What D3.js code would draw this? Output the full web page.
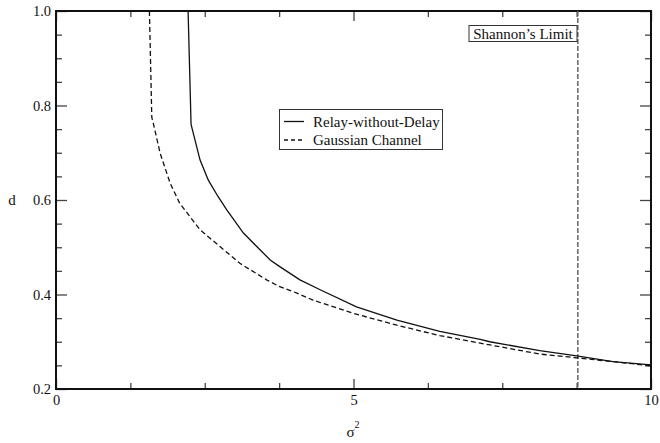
<!DOCTYPE html>
<html>
<head>
<meta charset="utf-8">
<script src="https://cdn.jsdelivr.net/npm/d3@7"></script>
<style>
  body { margin: 0; background: #fff; }
  svg { display: block; }
  text { font-family: "Liberation Serif", "Times New Roman", serif; fill: #111; }
</style>
</head>
<body>
<svg id="chart" width="660" height="443"></svg>
<script>
// ---- data ----
const relaySigma2 = [2.22, 2.27, 2.42, 2.56, 2.72, 2.87, 3.15, 3.60, 3.76, 4.10, 4.44, 5.05, 5.73, 6.45, 7.13, 7.29, 8.13, 8.75, 9.36, 10.0];
const relayD      = [1.00, 0.76, 0.685, 0.642, 0.608, 0.579, 0.530, 0.473, 0.459, 0.431, 0.410, 0.374, 0.346, 0.322, 0.305, 0.300, 0.281, 0.270, 0.258, 0.251];
const gaussSigma2 = [1.57, 1.61, 1.64, 1.75, 1.92, 2.08, 2.42, 2.76, 3.09, 3.54, 3.76, 4.05, 4.32, 5.00, 5.73, 6.45, 7.13, 8.13, 8.75, 9.36, 10.0];
const gaussD      = [1.00, 0.775, 0.760, 0.699, 0.635, 0.593, 0.537, 0.501, 0.466, 0.431, 0.4165, 0.403, 0.388, 0.360, 0.335, 0.313, 0.297, 0.274, 0.266, 0.258, 0.249];
const shannonLimit = 8.77;
const seriesNames = ["Relay-without-Delay", "Gaussian Channel"];
const xMajorTicks = [0, 5, 10];
const xMinorTicks = [1.25, 2.5, 3.75, 6.25, 7.5, 8.75];
const yMajorTicks = [0.2, 0.4, 0.6, 0.8, 1.0];
const yMinorTicks = [0.25, 0.3, 0.35, 0.45, 0.5, 0.55, 0.65, 0.7, 0.75, 0.85, 0.9, 0.95];
const xLabel = "σ";
const yLabel = "d";
const shannonText = "Shannon\u2019s Limit";

// ---- layout ----
const svg = d3.select("#chart");
const L = 56, R = 651, T = 11, B = 389;
const x = d3.scaleLinear().domain([0, 10]).range([L, R]);
const y = d3.scaleLinear().domain([0.2, 1.0]).range([B, T]);

const tickColor = "#444";
// bottom axis
const gB = svg.append("g").attr("transform", `translate(0,${B})`);
gB.call(d3.axisBottom(x).tickValues(xMajorTicks).tickSize(-10).tickPadding(6).tickFormat(d3.format("d")));
gB.append("g").call(d3.axisBottom(x).tickValues(xMinorTicks).tickSize(-6).tickFormat(""));
// top axis
const gT = svg.append("g").attr("transform", `translate(0,${T})`);
gT.call(d3.axisTop(x).tickValues(xMajorTicks).tickSize(-10).tickFormat(""));
gT.append("g").call(d3.axisTop(x).tickValues(xMinorTicks).tickSize(-6).tickFormat(""));
// left axis
const gL = svg.append("g").attr("transform", `translate(${L},0)`);
gL.call(d3.axisLeft(y).tickValues(yMajorTicks).tickSize(-11).tickPadding(5).tickFormat(d3.format(".1f")));
gL.append("g").call(d3.axisLeft(y).tickValues(yMinorTicks).tickSize(-6).tickFormat(""));
// right axis
const gR = svg.append("g").attr("transform", `translate(${R},0)`);
gR.call(d3.axisRight(y).tickValues(yMajorTicks).tickSize(-11).tickFormat(""));
gR.append("g").call(d3.axisRight(y).tickValues(yMinorTicks).tickSize(-6).tickFormat(""));

svg.selectAll(".domain").remove();
svg.selectAll(".tick line").attr("stroke", tickColor).attr("stroke-width", 1.3);
svg.selectAll(".tick text").style("font-family", "Liberation Serif, serif").style("font-size", "14.5px").attr("fill", "#111");

// frame
svg.append("rect").attr("x", L).attr("y", T).attr("width", R - L).attr("height", B - T)
  .attr("fill", "none").attr("stroke", "#111").attr("stroke-width", 2);

// Shannon limit line
svg.append("line")
  .attr("x1", x(shannonLimit)).attr("x2", x(shannonLimit))
  .attr("y1", T).attr("y2", B)
  .attr("stroke", "#666").attr("stroke-width", 1.5).attr("stroke-dasharray", "5,2");

// curves
const line = d3.line().x(d => x(d[0])).y(d => y(d[1]));
const relay = relaySigma2.map((s, i) => [s, relayD[i]]);
const gauss = gaussSigma2.map((s, i) => [s, gaussD[i]]);
svg.append("path").datum(relay).attr("d", line).attr("fill", "none")
  .attr("stroke", "#111").attr("stroke-width", 1.3);
svg.append("path").datum(gauss).attr("d", line).attr("fill", "none")
  .attr("stroke", "#111").attr("stroke-width", 1.3).attr("stroke-dasharray", "5,3");

// Shannon label
const sh = svg.append("g");
sh.append("rect").attr("x", 469).attr("y", 25.5).attr("width", 108).attr("height", 16)
  .attr("fill", "#fff").attr("stroke", "#333").attr("stroke-width", 1);
sh.append("text").attr("x", 523).attr("y", 38.5).attr("text-anchor", "middle")
  .style("font-size", "15px").text(shannonText);

// legend
const lg = svg.append("g");
lg.append("rect").attr("x", 279.5).attr("y", 109.5).attr("width", 163).attr("height", 40)
  .attr("fill", "#fff").attr("stroke", "#333").attr("stroke-width", 1);
const rows = [121.5, 140];
lg.append("line").attr("x1", 284).attr("x2", 304).attr("y1", rows[0]).attr("y2", rows[0])
  .attr("stroke", "#111").attr("stroke-width", 1.3);
lg.append("line").attr("x1", 284).attr("x2", 304).attr("y1", rows[1]).attr("y2", rows[1])
  .attr("stroke", "#111").attr("stroke-width", 1.3).attr("stroke-dasharray", "4,3");
seriesNames.forEach((n, i) => {
  lg.append("text").attr("x", 313).attr("y", rows[i] + 5).style("font-size", "15px").text(n);
});

// axis labels
svg.append("text").attr("x", 12).attr("y", 205).attr("text-anchor", "middle")
  .style("font-size", "15px").text(yLabel);
const xl = svg.append("text").attr("x", 353).attr("y", 437).attr("text-anchor", "middle")
  .style("font-size", "15px");
xl.append("tspan").text(xLabel);
xl.append("tspan").attr("dy", -9).style("font-size", "10px").text("2");
</script>
</body>
</html>
